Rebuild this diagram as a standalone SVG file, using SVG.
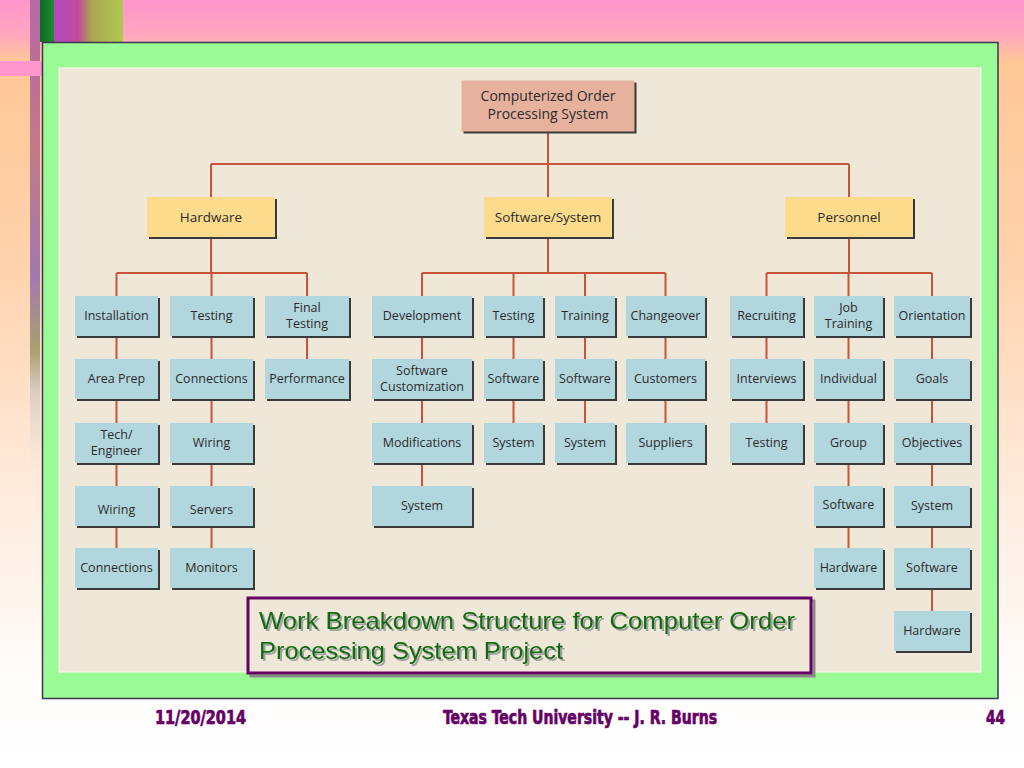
<svg xmlns="http://www.w3.org/2000/svg" width="1024" height="768" viewBox="0 0 1024 768">
<defs>
<linearGradient id="bg" x1="0" y1="0" x2="0" y2="1">
<stop offset="0" stop-color="#ff96cc"/>
<stop offset="0.045" stop-color="#ffa6bf"/>
<stop offset="0.08" stop-color="#ffc796"/>
<stop offset="0.35" stop-color="#ffd3ae"/>
<stop offset="0.7" stop-color="#fff0e6"/>
<stop offset="0.9" stop-color="#fffdfc"/>
<stop offset="1" stop-color="#ffffff"/>
</linearGradient>
<linearGradient id="flw" x1="0" y1="0" x2="1" y2="0">
<stop offset="0" stop-color="#b04cc0"/>
<stop offset="0.35" stop-color="#c24a9a"/>
<stop offset="0.55" stop-color="#a8a850"/>
<stop offset="1" stop-color="#b0c850"/>
</linearGradient>
<linearGradient id="strip" x1="0" y1="0" x2="0" y2="1">
<stop offset="0" stop-color="#b868a8"/>
<stop offset="0.3" stop-color="#c07a88"/>
<stop offset="0.55" stop-color="#a27ab0"/>
<stop offset="0.7" stop-color="#a8a070"/>
<stop offset="0.78" stop-color="#d8ccc0"/>
<stop offset="1" stop-color="#fff4ec" stop-opacity="0"/>
</linearGradient>
<linearGradient id="gbar" x1="0" y1="0" x2="1" y2="0">
<stop offset="0" stop-color="#0e6a22"/>
<stop offset="1" stop-color="#1f8a34"/>
</linearGradient>
<filter id="tsh" x="-5%" y="-20%" width="110%" height="150%">
<feFlood flood-color="#a0a0a0"/>
<feComposite in2="SourceAlpha" operator="in"/>
<feOffset dx="2" dy="2" result="s"/>
<feMerge><feMergeNode in="s"/><feMergeNode in="SourceGraphic"/></feMerge>
</filter>
</defs>
<style>
.sh{fill:#3a3a3a}
.b{fill:#b2d6de}
.t{font-family:"Open Sans","Noto Sans",sans-serif;font-size:12.5px;fill:#2b2b2b;text-anchor:middle}
.t1{font-family:"Open Sans","Noto Sans",sans-serif;font-size:13.5px;fill:#2b2b2b;text-anchor:middle}
.c{fill:none;stroke:#c9533b;stroke-width:2}
.ft{font-family:"DejaVu Sans Condensed","Liberation Sans Narrow","DejaVu Sans",sans-serif;font-weight:bold;font-size:20px;fill:#660066;stroke:#660066;stroke-width:0.7}
</style>

<rect x="0" y="0" width="1024" height="768" fill="url(#bg)"/>

<!-- left decoration -->
<rect x="30" y="0" width="10" height="500" fill="url(#strip)"/>
<rect x="54" y="0" width="69" height="42" fill="url(#flw)"/>
<rect x="40" y="0" width="14" height="42" fill="url(#gbar)"/>
<rect x="0" y="61" width="42" height="15" fill="#ff96cc"/>

<!-- frame -->
<rect x="42.5" y="42.5" width="955.5" height="656" fill="#9afb96" stroke="#3c3550" stroke-width="1.5"/>
<rect x="59" y="68" width="922" height="604" fill="#efe8d8" stroke="#fbf8f0" stroke-width="1"/>

<!-- connectors -->
<g id="connectors">
<path class="c" d="M548,132V164M211,164H849M211,164V197M548,164V197M849,164V197"/>
<path class="c" d="M211,237V273M116.5,273H307M116.5,273V296M211.5,273V296M307,273V296"/>
<path class="c" d="M548,237V273M422,273H665.5M422,273V296M513.5,273V296M585,273V296M665.5,273V296"/>
<path class="c" d="M849,237V273M766.5,273H932M766.5,273V296M848.5,273V296M932,273V296"/>
<path class="c" d="M116.5,336V359M116.5,399V423M116.5,463V486M116.5,526V548"/>
<path class="c" d="M211.5,336V359M211.5,399V423M211.5,463V486M211.5,526V548"/>
<path class="c" d="M307,336V359"/>
<path class="c" d="M422,336V359M422,399V423M422,463V486"/>
<path class="c" d="M513.5,336V359M513.5,399V423"/>
<path class="c" d="M585,336V359M585,399V423"/>
<path class="c" d="M665.5,336V359M665.5,399V423"/>
<path class="c" d="M766.5,336V359M766.5,399V423"/>
<path class="c" d="M848.5,336V359M848.5,399V423M848.5,463V486M848.5,526V548"/>
<path class="c" d="M932,336V359M932,399V423M932,463V486M932,526V548M932,588V611"/>
</g>

<!-- top -->
<g id="n-root"><rect class="sh" x="463.5" y="82.5" width="173" height="51"/><rect x="461.5" y="80.5" width="173" height="51" fill="#e6b29e"/><text class="t1" x="548" y="101" style="font-size:14px">Computerized Order</text><text class="t1" x="548" y="119" style="font-size:14px">Processing System</text></g>

<!-- level 1 -->
<g id="n-hardware"><rect class="sh" x="149" y="199" width="128" height="40"/><rect x="147" y="197" width="128" height="40" fill="#fcdc8c"/><text class="t1" x="211" y="222">Hardware</text></g>
<g id="n-software"><rect class="sh" x="486" y="199" width="128" height="40"/><rect x="484" y="197" width="128" height="40" fill="#fcdc8c"/><text class="t1" x="548" y="222">Software/System</text></g>
<g id="n-personnel"><rect class="sh" x="787" y="199" width="128" height="40"/><rect x="785" y="197" width="128" height="40" fill="#fcdc8c"/><text class="t1" x="849" y="222">Personnel</text></g>

<!-- Hardware col 1 -->
<g id="hw-installation"><rect class="sh" x="77" y="298" width="83" height="40"/><rect class="b" x="75" y="296" width="83" height="40"/><text class="t" x="116.5" y="320">Installation</text></g>
<g id="hw-areaprep"><rect class="sh" x="77" y="361" width="83" height="40"/><rect class="b" x="75" y="359" width="83" height="40"/><text class="t" x="116.5" y="383">Area Prep</text></g>
<g id="hw-tech"><rect class="sh" x="77" y="425" width="83" height="40"/><rect class="b" x="75" y="423" width="83" height="40"/><text class="t" x="116.5" y="439">Tech/</text><text class="t" x="116.5" y="455">Engineer</text></g>
<g id="hw-wiring1"><rect class="sh" x="77" y="488" width="83" height="40"/><rect class="b" x="75" y="486" width="83" height="40"/><text class="t" x="116.5" y="514">Wiring</text></g>
<g id="hw-connections1"><rect class="sh" x="77" y="550" width="83" height="40"/><rect class="b" x="75" y="548" width="83" height="40"/><text class="t" x="116.5" y="572">Connections</text></g>

<!-- Hardware col 2 -->
<g id="hw-testing"><rect class="sh" x="172" y="298" width="83" height="40"/><rect class="b" x="170" y="296" width="83" height="40"/><text class="t" x="211.5" y="320">Testing</text></g>
<g id="hw-connections2"><rect class="sh" x="172" y="361" width="83" height="40"/><rect class="b" x="170" y="359" width="83" height="40"/><text class="t" x="211.5" y="383">Connections</text></g>
<g id="hw-wiring2"><rect class="sh" x="172" y="425" width="83" height="40"/><rect class="b" x="170" y="423" width="83" height="40"/><text class="t" x="211.5" y="447">Wiring</text></g>
<g id="hw-servers"><rect class="sh" x="172" y="488" width="83" height="40"/><rect class="b" x="170" y="486" width="83" height="40"/><text class="t" x="211.5" y="514">Servers</text></g>
<g id="hw-monitors"><rect class="sh" x="172" y="550" width="83" height="40"/><rect class="b" x="170" y="548" width="83" height="40"/><text class="t" x="211.5" y="572">Monitors</text></g>

<!-- Hardware col 3 -->
<g id="hw-final"><rect class="sh" x="267" y="298" width="84" height="40"/><rect class="b" x="265" y="296" width="84" height="40"/><text class="t" x="307" y="312">Final</text><text class="t" x="307" y="328">Testing</text></g>
<g id="hw-performance"><rect class="sh" x="267" y="361" width="84" height="40"/><rect class="b" x="265" y="359" width="84" height="40"/><text class="t" x="307" y="383">Performance</text></g>

<!-- Software col 1 -->
<g id="sw-development"><rect class="sh" x="374" y="298" width="100" height="40"/><rect class="b" x="372" y="296" width="100" height="40"/><text class="t" x="422" y="320">Development</text></g>
<g id="sw-customization"><rect class="sh" x="374" y="361" width="100" height="40"/><rect class="b" x="372" y="359" width="100" height="40"/><text class="t" x="422" y="375">Software</text><text class="t" x="422" y="391">Customization</text></g>
<g id="sw-modifications"><rect class="sh" x="374" y="425" width="100" height="40"/><rect class="b" x="372" y="423" width="100" height="40"/><text class="t" x="422" y="447">Modifications</text></g>
<g id="sw-system1"><rect class="sh" x="374" y="488" width="100" height="40"/><rect class="b" x="372" y="486" width="100" height="40"/><text class="t" x="422" y="510">System</text></g>

<!-- Software col 2 -->
<g id="sw-testing"><rect class="sh" x="486" y="298" width="59" height="40"/><rect class="b" x="484" y="296" width="59" height="40"/><text class="t" x="513.5" y="320">Testing</text></g>
<g id="sw-software2"><rect class="sh" x="486" y="361" width="59" height="40"/><rect class="b" x="484" y="359" width="59" height="40"/><text class="t" x="513.5" y="383">Software</text></g>
<g id="sw-system2"><rect class="sh" x="486" y="425" width="59" height="40"/><rect class="b" x="484" y="423" width="59" height="40"/><text class="t" x="513.5" y="447">System</text></g>

<!-- Software col 3 -->
<g id="sw-training"><rect class="sh" x="557" y="298" width="60" height="40"/><rect class="b" x="555" y="296" width="60" height="40"/><text class="t" x="585" y="320">Training</text></g>
<g id="sw-software3"><rect class="sh" x="557" y="361" width="60" height="40"/><rect class="b" x="555" y="359" width="60" height="40"/><text class="t" x="585" y="383">Software</text></g>
<g id="sw-system3"><rect class="sh" x="557" y="425" width="60" height="40"/><rect class="b" x="555" y="423" width="60" height="40"/><text class="t" x="585" y="447">System</text></g>

<!-- Software col 4 -->
<g id="sw-changeover"><rect class="sh" x="628" y="298" width="79" height="40"/><rect class="b" x="626" y="296" width="79" height="40"/><text class="t" x="665.5" y="320">Changeover</text></g>
<g id="sw-customers"><rect class="sh" x="628" y="361" width="79" height="40"/><rect class="b" x="626" y="359" width="79" height="40"/><text class="t" x="665.5" y="383">Customers</text></g>
<g id="sw-suppliers"><rect class="sh" x="628" y="425" width="79" height="40"/><rect class="b" x="626" y="423" width="79" height="40"/><text class="t" x="665.5" y="447">Suppliers</text></g>

<!-- Personnel col 1 -->
<g id="p-recruiting"><rect class="sh" x="732" y="298" width="73" height="40"/><rect class="b" x="730" y="296" width="73" height="40"/><text class="t" x="766.5" y="320">Recruiting</text></g>
<g id="p-interviews"><rect class="sh" x="732" y="361" width="73" height="40"/><rect class="b" x="730" y="359" width="73" height="40"/><text class="t" x="766.5" y="383">Interviews</text></g>
<g id="p-testing"><rect class="sh" x="732" y="425" width="73" height="40"/><rect class="b" x="730" y="423" width="73" height="40"/><text class="t" x="766.5" y="447">Testing</text></g>

<!-- Personnel col 2 -->
<g id="p-jobtraining"><rect class="sh" x="816" y="298" width="69" height="40"/><rect class="b" x="814" y="296" width="69" height="40"/><text class="t" x="848.5" y="312">Job</text><text class="t" x="848.5" y="328">Training</text></g>
<g id="p-individual"><rect class="sh" x="816" y="361" width="69" height="40"/><rect class="b" x="814" y="359" width="69" height="40"/><text class="t" x="848.5" y="383">Individual</text></g>
<g id="p-group"><rect class="sh" x="816" y="425" width="69" height="40"/><rect class="b" x="814" y="423" width="69" height="40"/><text class="t" x="848.5" y="447">Group</text></g>
<g id="p-software2"><rect class="sh" x="816" y="488" width="69" height="40"/><rect class="b" x="814" y="486" width="69" height="40"/><text class="t" x="848.5" y="509">Software</text></g>
<g id="p-hardware2"><rect class="sh" x="816" y="550" width="69" height="40"/><rect class="b" x="814" y="548" width="69" height="40"/><text class="t" x="848.5" y="572">Hardware</text></g>

<!-- Personnel col 3 -->
<g id="p-orientation"><rect class="sh" x="896" y="298" width="76" height="40"/><rect class="b" x="894" y="296" width="76" height="40"/><text class="t" x="932" y="320">Orientation</text></g>
<g id="p-goals"><rect class="sh" x="896" y="361" width="76" height="40"/><rect class="b" x="894" y="359" width="76" height="40"/><text class="t" x="932" y="383">Goals</text></g>
<g id="p-objectives"><rect class="sh" x="896" y="425" width="76" height="40"/><rect class="b" x="894" y="423" width="76" height="40"/><text class="t" x="932" y="447">Objectives</text></g>
<g id="p-system"><rect class="sh" x="896" y="488" width="76" height="40"/><rect class="b" x="894" y="486" width="76" height="40"/><text class="t" x="932" y="510">System</text></g>
<g id="p-software3"><rect class="sh" x="896" y="550" width="76" height="40"/><rect class="b" x="894" y="548" width="76" height="40"/><text class="t" x="932" y="572">Software</text></g>
<g id="p-hardware3"><rect class="sh" x="896" y="613" width="76" height="40"/><rect class="b" x="894" y="611" width="76" height="40"/><text class="t" x="932" y="635">Hardware</text></g>

<!-- caption -->
<g id="caption">
<rect x="251" y="601" width="563" height="75" fill="none" stroke="#8a8a8a" stroke-width="3"/>
<rect x="248" y="598" width="563" height="75" fill="#efe8d8" stroke="#660066" stroke-width="3"/>
<g filter="url(#tsh)" font-family="'Liberation Sans',Arial,sans-serif" font-size="24" fill="#0d6a0d">
<text x="259" y="629" textLength="536" lengthAdjust="spacingAndGlyphs">Work Breakdown Structure for Computer Order</text>
<text x="259" y="659" textLength="304" lengthAdjust="spacingAndGlyphs">Processing System Project</text>
</g>
</g>

<!-- footer -->
<g id="footer">
<text class="ft" x="155" y="724" textLength="91" lengthAdjust="spacingAndGlyphs">11/20/2014</text>
<text class="ft" x="443" y="724" textLength="274" lengthAdjust="spacingAndGlyphs">Texas Tech University -- J. R. Burns</text>
<text class="ft" x="986" y="724" textLength="19" lengthAdjust="spacingAndGlyphs">44</text>
</g>
</svg>
